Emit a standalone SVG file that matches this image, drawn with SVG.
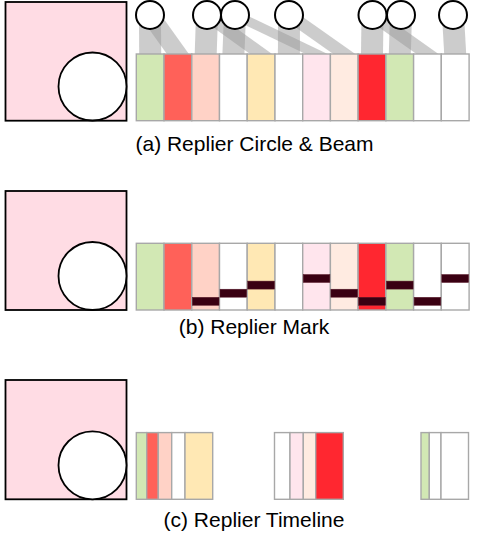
<svg xmlns="http://www.w3.org/2000/svg" width="477" height="541" viewBox="0 0 477 541">
<style>
.sq{fill:#ffdce4;stroke:#000;stroke-width:1.8}
.bc{fill:#fff;stroke:#000;stroke-width:1.8}
.rc{fill:#fff;stroke:#000;stroke-width:2}
.cell{stroke:#a8a8a8;stroke-width:1.4}
.beam{fill:#999;fill-opacity:0.5;stroke:none}
.mk{fill:#3a0012;stroke:#5a1a2a;stroke-width:0.5}
.g{fill:#d2e8b4}.r1{fill:#ff6159}.pc{fill:#ffd2c6}.w{fill:#fff}.y{fill:#ffe8b4}.pk{fill:#ffe5ed}.pl{fill:#ffebe1}.r2{fill:#ff2730}
.lbl{font-family:"Liberation Sans",Arial,Helvetica,sans-serif;font-size:21px;fill:#000;text-anchor:middle}
</style>
<g id="panel-a">
  <g id="a-avatar"><rect class="sq" x="5.5" y="2" width="121" height="118.7"/><circle class="bc" cx="92.5" cy="86.5" r="34"/></g>
  <g id="a-beams">
    <polygon class="beam" points="139,15 161,15 161.2,54 139.2,54"/>
    <polygon class="beam" points="139,15 161,15 188.9,54 166.9,54"/>
    <polygon class="beam" points="196,15 218,15 216.7,54 194.7,54"/>
    <polygon class="beam" points="196,15 218,15 272.1,54 250.1,54"/>
    <polygon class="beam" points="224,15 246,15 244.4,54 222.4,54"/>
    <polygon class="beam" points="224,15 246,15 327.6,54 305.6,54"/>
    <polygon class="beam" points="278,15 300,15 299.9,54 277.9,54"/>
    <polygon class="beam" points="278,15 300,15 355.3,54 333.3,54"/>
    <polygon class="beam" points="361.5,15 383.5,15 383,54 361,54"/>
    <polygon class="beam" points="361.5,15 383.5,15 438.5,54 416.5,54"/>
    <polygon class="beam" points="390,15 412,15 410.8,54 388.8,54"/>
    <polygon class="beam" points="442,15 464,15 466.2,54 444.2,54"/>
  </g>
  <g id="a-repliers">
    <circle class="rc" cx="150" cy="15" r="14"/>
    <circle class="rc" cx="207" cy="15" r="14"/>
    <circle class="rc" cx="235" cy="15" r="14"/>
    <circle class="rc" cx="289" cy="15" r="14"/>
    <circle class="rc" cx="372.5" cy="15" r="14"/>
    <circle class="rc" cx="401" cy="15" r="14"/>
    <circle class="rc" cx="453" cy="15" r="14"/>
  </g>
  <g id="a-cells">
    <rect class="cell g" x="136.3" y="54" width="27.7" height="66.7"/>
    <rect class="cell r1" x="164" y="54" width="27.8" height="66.7"/>
    <rect class="cell pc" x="191.8" y="54" width="27.7" height="66.7"/>
    <rect class="cell w" x="219.5" y="54" width="27.7" height="66.7"/>
    <rect class="cell y" x="247.2" y="54" width="27.8" height="66.7"/>
    <rect class="cell w" x="275" y="54" width="27.7" height="66.7"/>
    <rect class="cell pk" x="302.7" y="54" width="27.7" height="66.7"/>
    <rect class="cell pl" x="330.4" y="54" width="27.7" height="66.7"/>
    <rect class="cell r2" x="358.1" y="54" width="27.8" height="66.7"/>
    <rect class="cell g" x="385.9" y="54" width="27.7" height="66.7"/>
    <rect class="cell w" x="413.6" y="54" width="27.7" height="66.7"/>
    <rect class="cell w" x="441.3" y="54" width="27.8" height="66.7"/>
  </g>
  <text class="lbl" x="254.5" y="150.5">(a) Replier Circle &amp; Beam</text>
</g>
<g id="panel-b">
  <g id="b-avatar"><rect class="sq" x="5.5" y="191" width="121" height="119"/><circle class="bc" cx="92.5" cy="276" r="34"/></g>
  <g id="b-cells">
    <rect class="cell g" x="136.3" y="243.3" width="27.7" height="66.7"/>
    <rect class="cell r1" x="164" y="243.3" width="27.8" height="66.7"/>
    <rect class="cell pc" x="191.8" y="243.3" width="27.7" height="66.7"/>
    <rect class="cell w" x="219.5" y="243.3" width="27.7" height="66.7"/>
    <rect class="cell y" x="247.2" y="243.3" width="27.8" height="66.7"/>
    <rect class="cell w" x="275" y="243.3" width="27.7" height="66.7"/>
    <rect class="cell pk" x="302.7" y="243.3" width="27.7" height="66.7"/>
    <rect class="cell pl" x="330.4" y="243.3" width="27.7" height="66.7"/>
    <rect class="cell r2" x="358.1" y="243.3" width="27.8" height="66.7"/>
    <rect class="cell g" x="385.9" y="243.3" width="27.7" height="66.7"/>
    <rect class="cell w" x="413.6" y="243.3" width="27.7" height="66.7"/>
    <rect class="cell w" x="441.3" y="243.3" width="27.8" height="66.7"/>
  </g>
  <g id="b-marks">
    <rect class="mk" x="192.3" y="297.3" width="26.7" height="8"/>
    <rect class="mk" x="220" y="289.2" width="26.7" height="8"/>
    <rect class="mk" x="247.7" y="281.1" width="26.8" height="8"/>
    <rect class="mk" x="303.2" y="274.5" width="26.7" height="8"/>
    <rect class="mk" x="330.9" y="289.2" width="26.7" height="8"/>
    <rect class="mk" x="358.6" y="297.3" width="26.8" height="8"/>
    <rect class="mk" x="386.4" y="281.1" width="26.7" height="8"/>
    <rect class="mk" x="414.1" y="297.3" width="26.7" height="8"/>
    <rect class="mk" x="441.8" y="274.5" width="26.8" height="8"/>
  </g>
  <text class="lbl" x="254" y="333.5">(b) Replier Mark</text>
</g>
<g id="panel-c">
  <g id="c-avatar"><rect class="sq" x="5.5" y="380" width="121" height="119.3"/><circle class="bc" cx="92.5" cy="465.3" r="34"/></g>
  <g id="c-group1">
    <rect class="cell g" x="136.3" y="432.6" width="10.4" height="66.7"/>
    <rect class="cell r1" x="146.7" y="432.6" width="11.6" height="66.7"/>
    <rect class="cell pc" x="158.3" y="432.6" width="13.4" height="66.7"/>
    <rect class="cell w" x="171.7" y="432.6" width="13.3" height="66.7"/>
    <rect class="cell y" x="185" y="432.6" width="27.7" height="66.7"/>
  </g>
  <g id="c-group2">
    <rect class="cell w" x="274.5" y="432.6" width="15.5" height="66.7"/>
    <rect class="cell pk" x="290" y="432.6" width="13.3" height="66.7"/>
    <rect class="cell pl" x="303.3" y="432.6" width="12.4" height="66.7"/>
    <rect class="cell r2" x="315.7" y="432.6" width="27.6" height="66.7"/>
  </g>
  <g id="c-group3">
    <rect class="cell g" x="421" y="432.6" width="8.3" height="66.7"/>
    <rect class="cell w" x="429.3" y="432.6" width="11.7" height="66.7"/>
    <rect class="cell w" x="441" y="432.6" width="27.5" height="66.7"/>
  </g>
  <text class="lbl" x="254" y="527">(c) Replier Timeline</text>
</g>
</svg>
